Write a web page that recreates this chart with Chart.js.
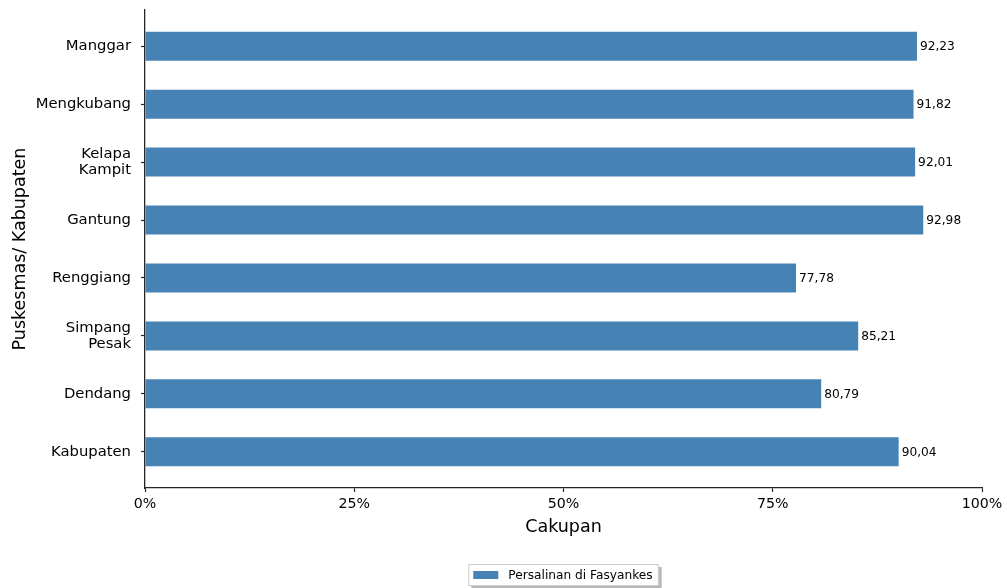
<!DOCTYPE html>
<html>
<head>
<meta charset="utf-8">
<script src="https://cdn.jsdelivr.net/npm/chart.js@4.4.0/dist/chart.umd.min.js"></script>
<style>
  html, body { margin: 0; padding: 0; background: #fff; }
  #wrap { width: 1007px; height: 588px; }
</style>
</head>
<body>
<div id="wrap"><canvas id="chart" width="1007" height="588"></canvas></div>
<script>
// Persalinan di Fasyankes per Puskesmas

const categories = ['Manggar', 'Mengkubang', 'Kelapa Kampit', 'Gantung', 'Renggiang', 'Simpang Pesak', 'Dendang', 'Kabupaten'];
const cakupan = [92.23, 91.82, 92.01, 92.98, 77.78, 85.21, 80.79, 90.04];
const xTicks = [0, 25, 50, 75, 100];
const seriesLabel = 'Persalinan di Fasyankes';

const FONT = "'DejaVu Sans', sans-serif";
const AXIS = '#262626';

// value labels next to the bars
const valueLabels = {
    id: 'valueLabels',
    afterDatasetsDraw(chart) {
        const ctx = chart.ctx;
        const meta = chart.getDatasetMeta(0);
        ctx.save();
        ctx.font = '12.2px ' + FONT;
        ctx.fillStyle = '#000';
        ctx.textAlign = 'left';
        ctx.textBaseline = 'middle';
        meta.data.forEach(function(bar, i) {
            ctx.fillText(cakupan[i].toFixed(2).replace('.', ','), bar.x + 3, bar.y + 1);
        });
        ctx.restore();
    }
};

// matplotlib style legend box with shadow
const boxLegend = {
    id: 'boxLegend',
    afterDraw(chart) {
        const ctx = chart.ctx;
        const area = chart.chartArea;
        ctx.save();
        ctx.font = '12.2px ' + FONT;
        const tw = ctx.measureText(seriesLabel).width;
        const w = tw + 46;
        const h = 22;
        const x = (area.left + area.right) / 2 - w / 2;
        const y = 564;
        ctx.fillStyle = '#b8b8b8';
        ctx.fillRect(x + 3, y + 3, w, h);
        ctx.fillStyle = '#fff';
        ctx.fillRect(x, y, w, h);
        ctx.strokeStyle = '#cccccc';
        ctx.lineWidth = 1;
        ctx.strokeRect(x + 0.5, y + 0.5, w - 1, h - 1);
        ctx.fillStyle = '#4682B4';
        ctx.fillRect(x + 5, y + 7, 25, 8);
        ctx.fillStyle = '#000';
        ctx.textBaseline = 'middle';
        ctx.fillText(seriesLabel, x + 40, y + h / 2 + 1);
        ctx.restore();
    }
};

const chartCanvas = document.getElementById('chart').getContext('2d');

new Chart(chartCanvas, {
    type: 'bar',
    data: {
        datasets: [
            {
                label: seriesLabel,
                backgroundColor: '#4682B4',
                borderWidth: 0,
                barPercentage: 0.5,
                categoryPercentage: 1.0,
                data: cakupan.map(function(v, i) { return { x: v, y: i }; })
            }
        ]
    },
    options: {
        indexAxis: 'y',
        responsive: false,
        animation: false,
        layout: {
            padding: { top: 10, right: 25, left: 0, bottom: 0 }
        },
        plugins: {
            legend: { display: false },
            tooltip: { enabled: false }
        },
        scales: {
            x: {
                type: 'linear',
                min: 0,
                max: 100,
                afterBuildTicks: function(axis) {
                    axis.ticks = xTicks.map(function(v) { return { value: v }; });
                },
                afterFit: function(axis) { axis.height = 100; },
                grid: { display: true, drawOnChartArea: false, drawTicks: true, tickLength: 4, tickWidth: 1.2, color: AXIS },
                border: { display: true, color: AXIS, width: 1.3 },
                ticks: {
                    color: '#000',
                    padding: 4,
                    maxRotation: 0,
                    font: { family: FONT, size: 14.2 },
                    callback: function(v) { return v + '%'; }
                },
                title: {
                    display: true,
                    text: 'Cakupan',
                    color: '#000',
                    font: { family: FONT, size: 17.5 },
                    padding: { top: 4, bottom: 50 }
                }
            },
            y: {
                type: 'linear',
                min: -0.625,
                max: 7.625,
                reverse: true,
                offset: false,
                afterBuildTicks: function(axis) {
                    axis.ticks = categories.map(function(c, i) { return { value: i }; });
                },
                afterFit: function(axis) {
                    axis.width = 145;
                    axis.paddingTop = 0;
                    axis.paddingBottom = 0;
                },
                grid: { display: true, offset: false, drawOnChartArea: false, drawTicks: true, tickLength: 4, tickWidth: 1.2, color: AXIS },
                border: { display: true, color: AXIS, width: 1.3 },
                ticks: {
                    color: '#000',
                    padding: 10,
                    autoSkip: false,
                    font: { family: FONT, size: 14.8, lineHeight: 1.1 },
                    callback: function(v) {
                        const name = categories[v];
                        return name.indexOf(' ') > 0 ? name.split(' ') : name;
                    }
                },
                title: {
                    display: true,
                    text: 'Puskesmas/ Kabupaten',
                    color: '#000',
                    font: { family: FONT, size: 17.5 },
                    padding: { top: 10, bottom: 0 }
                }
            }
        }
    },
    plugins: [valueLabels, boxLegend]
});
</script>
</body>
</html>
